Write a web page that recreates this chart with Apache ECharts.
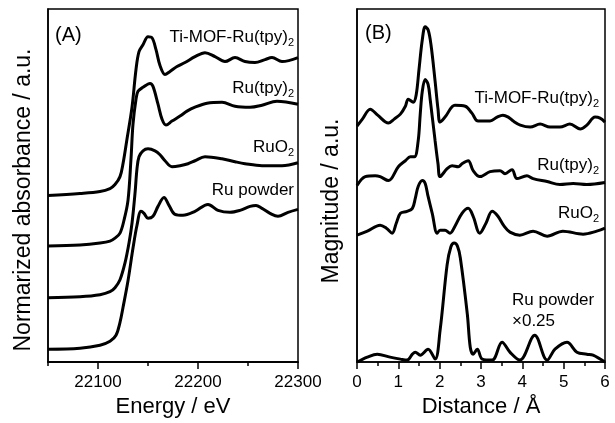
<!DOCTYPE html>
<html>
<head>
<meta charset="utf-8">
<script src="https://cdn.jsdelivr.net/npm/echarts@6/dist/echarts.min.js"></script>
<style>
html,body{margin:0;padding:0;background:#fff;}
#chart{width:615px;height:423px;}
</style>
</head>
<body>
<div id="chart"></div>
<script>
// ---------- Panel A: XANES ----------
const energyTi = [22050,22082,22102,22112,22117,22122,22125,22129,22134,22138,22141,22145,22150,22154,22158,22162,22167,22172,22179,22187,22197,22207,22217,22227,22237,22247,22257,22267,22274,22284,22300];
const absTi    = [1.68,1.70,1.72,1.75,1.79,1.87,2.00,2.25,2.57,2.95,3.13,3.20,3.28,3.27,3.15,2.99,2.90,2.93,2.98,3.02,3.08,3.12,3.08,3.03,3.07,3.03,3.02,3.05,3.07,3.03,3.07];

const energyTpy = [22050,22082,22102,22112,22117,22122,22126,22130,22133,22135,22138,22140,22145,22152,22155,22160,22164,22168,22174,22182,22189,22197,22209,22224,22237,22252,22264,22279,22300];
const absTpy    = [1.17,1.18,1.20,1.22,1.25,1.30,1.43,1.63,2.05,2.40,2.65,2.73,2.77,2.81,2.78,2.60,2.45,2.39,2.43,2.48,2.53,2.57,2.61,2.62,2.58,2.57,2.59,2.63,2.60];

const energyRuO2 = [22050,22082,22102,22112,22117,22122,22127,22131,22134,22137,22139,22141,22145,22150,22157,22162,22167,22174,22182,22190,22197,22207,22224,22237,22247,22264,22284,22300];
const absRuO2    = [0.65,0.66,0.68,0.71,0.75,0.83,1.00,1.20,1.40,1.70,1.95,2.07,2.13,2.15,2.13,2.09,2.03,1.97,1.98,2.00,2.03,2.07,2.05,2.02,2.00,1.98,1.98,2.01];

const energyRu = [22050,22082,22102,22112,22118,22122,22125,22130,22135,22139,22143,22146,22150,22155,22160,22166,22171,22177,22185,22197,22210,22220,22232,22242,22252,22258,22264,22272,22280,22290,22300];
const absRu    = [0.13,0.14,0.17,0.21,0.27,0.40,0.55,0.82,1.15,1.38,1.52,1.50,1.45,1.47,1.57,1.66,1.58,1.49,1.48,1.52,1.59,1.53,1.51,1.53,1.57,1.58,1.55,1.50,1.47,1.51,1.54];

// ---------- Panel B: EXAFS FT ----------
const distTi = [0,0.13,0.32,0.5,0.76,0.9,1.05,1.17,1.24,1.36,1.43,1.5,1.58,1.65,1.72,1.79,1.89,1.96,2.01,2.13,2.37,2.62,2.78,2.93,3.22,3.39,3.53,3.66,3.78,3.95,4.19,4.43,4.67,4.91,5.15,5.4,5.56,5.76,5.88,6.0];
const magTi  = [2.38,2.45,2.55,2.49,2.41,2.45,2.50,2.58,2.65,2.62,2.69,2.95,3.25,3.38,3.35,3.20,2.83,2.55,2.42,2.47,2.59,2.58,2.51,2.43,2.43,2.47,2.49,2.47,2.43,2.39,2.37,2.40,2.37,2.37,2.40,2.35,2.39,2.47,2.46,2.42];

const distTpy = [0,0.2,0.44,0.56,0.76,1.0,1.17,1.29,1.39,1.48,1.53,1.58,1.65,1.72,1.77,1.89,1.96,2.01,2.18,2.30,2.45,2.54,2.69,2.81,2.97,3.22,3.46,3.58,3.75,3.87,4.11,4.26,4.6,4.91,5.23,5.56,6.0];
const magTpy  = [1.78,1.87,1.88,1.87,1.83,1.97,2.03,2.07,2.07,2.23,2.50,2.73,2.85,2.80,2.65,2.23,2.00,1.87,1.95,1.98,1.97,2.00,2.03,1.93,1.87,1.92,1.93,1.90,1.94,1.85,1.88,1.85,1.82,1.79,1.80,1.79,1.81];

const distRuO2 = [0,0.25,0.56,0.71,0.85,0.95,1.05,1.21,1.34,1.41,1.48,1.58,1.65,1.72,1.82,1.94,2.01,2.13,2.25,2.37,2.54,2.69,2.81,2.97,3.12,3.27,3.41,3.56,3.70,3.94,4.26,4.6,4.98,5.47,5.8,6.0];
const magRuO2  = [1.28,1.32,1.38,1.35,1.30,1.40,1.50,1.52,1.55,1.65,1.77,1.83,1.80,1.67,1.50,1.30,1.33,1.33,1.30,1.37,1.50,1.55,1.47,1.30,1.40,1.52,1.47,1.37,1.31,1.28,1.32,1.27,1.32,1.29,1.32,1.35];

const distRu = [0,0.25,0.49,0.80,1.05,1.21,1.34,1.41,1.53,1.72,1.89,2.01,2.18,2.27,2.35,2.43,2.50,2.67,2.74,2.81,2.91,3.03,3.27,3.51,3.70,3.94,4.30,4.6,4.79,5.08,5.32,5.56,5.71,6.0];
const magRu  = [0,0.05,0.08,0.05,0.03,0.02,0.08,0.10,0.07,0.13,0.03,0.32,0.98,1.16,1.20,1.17,1.05,0.48,0.15,0.08,0.13,0.03,0.02,0.20,0.10,0.02,0.27,0.02,0.13,0.20,0.10,0.08,0.07,0];

const xTicksA = [22100,22200,22300];
const xMinorA = [22050,22150,22250];

function zip(xs, ys){ return xs.map((x,i)=>[x,ys[i]]); }

const FONT = '"Liberation Sans", Arial, sans-serif';
const lineStyle = {color:'#000', width:3};
function line(x, y, xi, yi){
  return {type:'line', xAxisIndex:xi, yAxisIndex:yi, data:zip(x,y), showSymbol:false, symbol:'none',
          smooth:0.35, lineStyle:lineStyle, silent:true, animation:false, z:3};
}
const subRich = {s:{fontSize:11, fontFamily:FONT, color:'#000', padding:[12,0,0,0]}};
function label(txt, x, y, align, size){
  return {type:'text', x:x, y:y, z:10,
    style:{text:txt, fontSize:size||17, fontFamily:FONT, fill:'#000', align:align||'right', verticalAlign:'middle', rich:subRich}};
}

const chart = echarts.init(document.getElementById('chart'), null, {renderer:'canvas'});
const axisLineStyle = {color:'#000', width:1.5};
const plain = v => String(v);
chart.setOption({
  animation:false,
  backgroundColor:'#fff',
  grid:[
    {left:48, width:250, top:9, height:356, show:true, borderColor:'#000', borderWidth:1.5},
    {left:357, width:248, top:9, height:356, show:true, borderColor:'#000', borderWidth:1.5}
  ],
  xAxis:[
    {gridIndex:0, type:'value', min:22050, max:22300, position:'bottom',
     axisLine:{show:true, lineStyle:axisLineStyle},
     axisTick:{show:true, length:7, customValues:xTicksA, lineStyle:{color:'#000', width:1.5}},
     axisLabel:{show:true, customValues:xTicksA, formatter:plain, fontSize:17, fontFamily:FONT, color:'#000', margin:12},
     splitLine:{show:false},
     name:'Energy / eV', nameLocation:'middle', nameGap:33,
     nameTextStyle:{fontSize:22, fontFamily:FONT, color:'#000'}},
    {gridIndex:0, type:'value', min:22050, max:22300, position:'bottom',
     axisLine:{show:true, lineStyle:axisLineStyle},
     axisTick:{show:true, length:4, customValues:xMinorA, lineStyle:{color:'#000', width:1.5}},
     axisLabel:{show:false}, splitLine:{show:false}},
    {gridIndex:1, type:'value', min:0, max:6, interval:1, position:'bottom',
     axisLine:{show:true, lineStyle:axisLineStyle},
     axisTick:{show:true, length:7, lineStyle:{color:'#000', width:1.5}},
     minorTick:{show:true, splitNumber:2, length:4, lineStyle:{color:'#000', width:1.5}},
     axisLabel:{show:true, formatter:plain, fontSize:17, fontFamily:FONT, color:'#000', margin:12},
     splitLine:{show:false},
     name:'Distance / Å', nameLocation:'middle', nameGap:33,
     nameTextStyle:{fontSize:22, fontFamily:FONT, color:'#000'}}
  ],
  yAxis:[
    {gridIndex:0, type:'value', min:0, max:3.56, axisLine:{show:true, lineStyle:axisLineStyle},
     axisTick:{show:false}, axisLabel:{show:false}, splitLine:{show:false}},
    {gridIndex:1, type:'value', min:0, max:3.56, axisLine:{show:true, lineStyle:axisLineStyle},
     axisTick:{show:false}, axisLabel:{show:false}, splitLine:{show:false}}
  ],
  graphic:[
    {type:'text', x:24, y:200, rotation:Math.PI/2, z:10,
     style:{text:'Normarized absorbance / a.u.', fontSize:23, fontFamily:FONT, fill:'#000', align:'center', verticalAlign:'middle'}},
    {type:'text', x:332, y:201, rotation:Math.PI/2, z:10,
     style:{text:'Magnitude / a.u.', fontSize:23, fontFamily:FONT, fill:'#000', align:'center', verticalAlign:'middle'}},
    label('(A)', 55, 35, 'left', 20),
    label('(B)', 365, 33, 'left', 20),
    label('Ti-MOF-Ru(tpy){s|2}', 294, 37),
    label('Ru(tpy){s|2}', 294, 88),
    label('RuO{s|2}', 294, 147),
    label('Ru powder', 294, 190),
    label('Ti-MOF-Ru(tpy){s|2}', 599, 98),
    label('Ru(tpy){s|2}', 599, 165),
    label('RuO{s|2}', 599, 213),
    label('Ru powder', 512, 300, 'left'),
    label('×0.25', 512, 321, 'left')
  ],
  series:[
    line(energyTi, absTi, 0, 0),
    line(energyTpy, absTpy, 0, 0),
    line(energyRuO2, absRuO2, 0, 0),
    line(energyRu, absRu, 0, 0),
    line(distTi, magTi, 2, 1),
    line(distTpy, magTpy, 2, 1),
    line(distRuO2, magRuO2, 2, 1),
    line(distRu, magRu, 2, 1)
  ]
});
</script>
</body>
</html>
